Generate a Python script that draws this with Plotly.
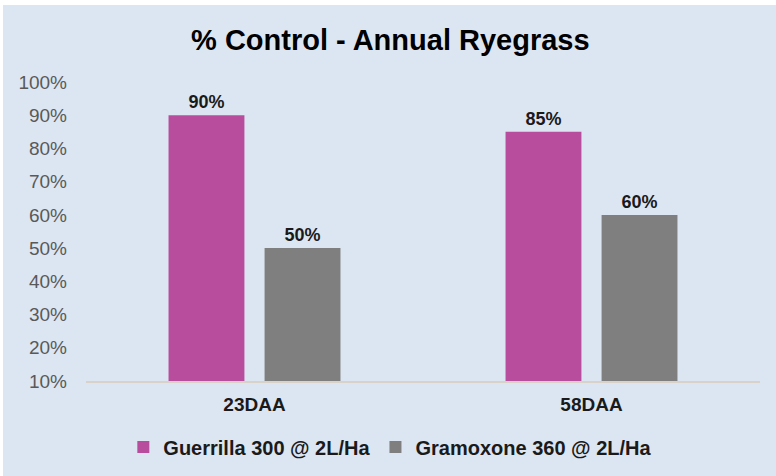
import plotly.graph_objects as go

categories = ["23DAA", "58DAA"]
series_names = ["Guerrilla 300 @ 2L/Ha", "Gramoxone 360 @ 2L/Ha"]
guerrilla = [0.90, 0.85]
gramoxone = [0.50, 0.60]
colors = ["#B84D9E", "#7F7F7F"]
title_text = "% Control - Annual Ryegrass"

fig = go.Figure()
for name, vals, col in zip(series_names, [guerrilla, gramoxone], colors):
    fig.add_trace(go.Bar(
        x=categories, y=vals, name=name,
        marker=dict(color=col, line=dict(width=0)),
        text=[f"{v:.0%}" for v in vals], textposition="outside",
        textfont=dict(family="Liberation Sans, Arial", size=18, color="#1a1a1a", weight="bold"),
        cliponaxis=False,
    ))

W, H = 776, 476
L, R, T, B = 86, 16, 82, 95
pw, ph = W - L - R, H - T - B

fig.update_layout(
    width=W, height=H,
    margin=dict(l=L, r=R, t=T, b=B),
    paper_bgcolor="white", plot_bgcolor="rgba(0,0,0,0)",
    barmode="group", bargap=0.43, bargroupgap=0.21,
    title=dict(text=title_text, x=0.503, xref="container", xanchor="center",
               y=1 - 40 / H, yanchor="middle",
               font=dict(family="Liberation Sans, Arial", size=29, color="black", weight="bold")),
    font=dict(family="Liberation Sans, Arial"),
    showlegend=True,
    legend=dict(orientation="h", xref="container", yref="container", x=0.503, xanchor="center",
                y=1 - 447 / H, yanchor="middle",
                font=dict(size=20, color="#1a1a1a", weight="bold"),
                itemwidth=30, bgcolor="rgba(0,0,0,0)"),
    shapes=[dict(type="rect", xref="paper", yref="paper",
                 x0=(3 - L) / pw, x1=(W + 2 - L) / pw,
                 y0=-(B + 2) / ph, y1=1 + (T - 5) / ph,
                 fillcolor="#DCE6F2", line=dict(width=0), layer="below")],
)
fig.update_xaxes(showline=True, linecolor="#D9D2C9", linewidth=1.5,
                 tickfont=dict(size=19, color="#1a1a1a", weight="bold"),
                 ticks="", showgrid=False, ticklabelstandoff=5)
fig.update_yaxes(range=[0.1, 1.0], dtick=0.1, tickformat=".0%", showgrid=False,
                 zeroline=False, showline=False,
                 tickfont=dict(size=19, color="#595959"), ticklabelstandoff=18)

fig.write_html("out.html", config={"displayModeBar": False},
               post_script="document.body.style.margin='0';")
